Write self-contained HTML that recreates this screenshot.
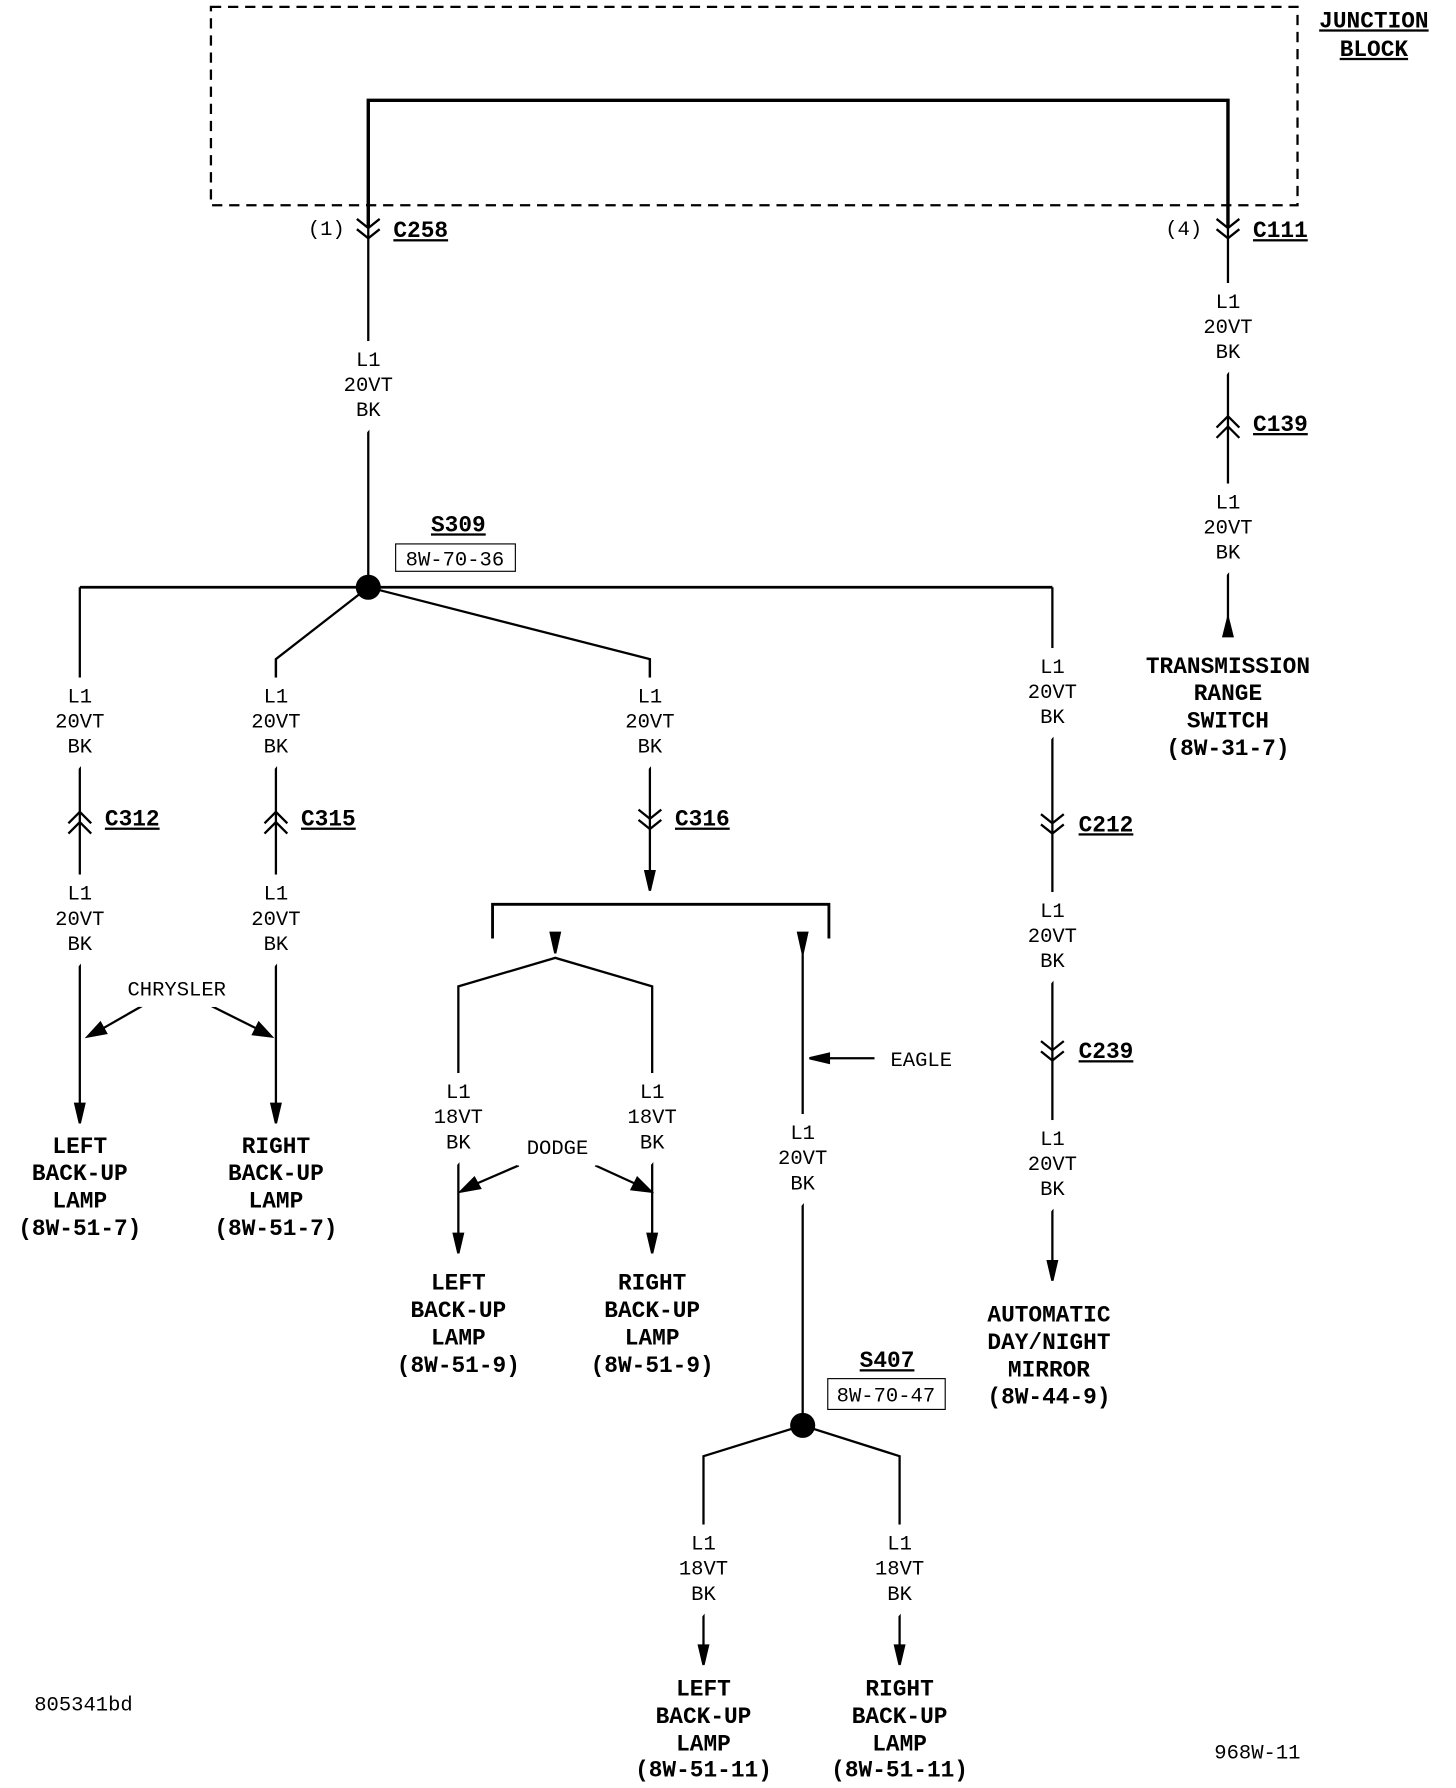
<!DOCTYPE html>
<html><head><meta charset="utf-8"><style>
html,body{margin:0;padding:0;background:#fff;}
svg{display:block;}
.w{font-family:"Liberation Mono",monospace;font-size:18px;fill:#000;text-anchor:middle;stroke:#fff;stroke-width:20px;paint-order:stroke;}
.b{font-family:"Liberation Mono",monospace;font-weight:bold;font-size:20px;fill:#000;text-anchor:middle;}
.c{font-family:"Liberation Mono",monospace;font-weight:bold;font-size:20px;fill:#000;text-decoration:underline;}
.n{font-family:"Liberation Mono",monospace;font-size:18px;fill:#000;}
</style></head><body>
<svg width="1456" height="1788" viewBox="0 0 1277 1568" preserveAspectRatio="none" xmlns="http://www.w3.org/2000/svg">
<g fill="none" stroke="#000" stroke-width="2">
<rect x="185" y="6" width="953" height="174" stroke-dasharray="9,6" stroke-width="2"/>
<polyline points="323,200 323,88 1077,88 1077,200" stroke-width="3"/>
<line x1="323" y1="200" x2="323" y2="515"/>
<polyline points="313,192 323,200 333,192"/><polyline points="313,201 323,209 333,201"/>
<line x1="1077" y1="200" x2="1077" y2="545"/>
<polyline points="1067,192 1077,200 1087,192"/><polyline points="1067,201 1077,209 1087,201"/>
<polyline points="1067,375 1077,365 1087,375"/><polyline points="1067,384 1077,374 1087,384"/>
<path d="M1073,558 L1081,558 L1077,542 Z" fill="#000"/>
<line x1="70" y1="515" x2="923" y2="515" stroke-width="2.5"/>
<polyline points="323,515 242,578 242,600"/>
<polyline points="323,515 570,578 570,600"/>
<line x1="70" y1="515" x2="70" y2="970"/>
<line x1="242" y1="578" x2="242" y2="970"/>
<polyline points="60,722 70,712 80,722"/><polyline points="60,731 70,721 80,731"/>
<polyline points="232,722 242,712 252,722"/><polyline points="232,731 242,721 252,731"/>
<path d="M66,968 L74,968 L70,985 Z" fill="#000"/>
<path d="M238,968 L246,968 L242,985 Z" fill="#000"/>
<line x1="570" y1="578" x2="570" y2="768"/>
<polyline points="560,710 570,718 580,710"/><polyline points="560,719 570,727 580,719"/>
<path d="M566,764 L574,764 L570,781 Z" fill="#000"/>
<polyline points="432,823 432,793 727,793 727,823" stroke-width="2.5"/>
<path d="M483,818 L491,818 L487,836 Z" fill="#000"/>
<polyline points="402,1085 402,865 487,840 572,865 572,1085"/>
<path d="M398,1082 L406,1082 L402,1099 Z" fill="#000"/>
<path d="M568,1082 L576,1082 L572,1099 Z" fill="#000"/>
<line x1="704" y1="830" x2="704" y2="1250"/>
<path d="M700,818 L708,818 L704,836 Z" fill="#000"/>
<line x1="725" y1="928" x2="767" y2="928"/>
<path d="M710,928 L727,924 L727,932 Z" fill="#000"/>
<polyline points="617,1445 617,1277 704,1250 789,1277 789,1445"/>
<path d="M613,1443 L621,1443 L617,1460 Z" fill="#000"/>
<path d="M785,1443 L793,1443 L789,1460 Z" fill="#000"/>
<line x1="923" y1="515" x2="923" y2="1110"/>
<polyline points="913,714 923,722 933,714"/><polyline points="913,723 923,731 933,723"/>
<polyline points="913,913 923,921 933,913"/><polyline points="913,922 923,930 933,922"/>
<path d="M919,1106 L927,1106 L923,1123 Z" fill="#000"/>
<line x1="125" y1="882" x2="90" y2="902"/><path d="M77,909 L88,897 L93,906 Z" fill="#000"/>
<line x1="185" y1="882" x2="225" y2="902"/><path d="M238,909 L222,907 L227,897 Z" fill="#000"/>
<line x1="455" y1="1022" x2="418" y2="1038"/><path d="M404,1045 L416,1033 L421,1042 Z" fill="#000"/>
<line x1="522" y1="1022" x2="557" y2="1038"/><path d="M571,1045 L554,1043 L559,1033 Z" fill="#000"/>
<rect x="347" y="477" width="105" height="24" stroke-width="1"/>
<rect x="726" y="1209" width="103" height="27" stroke-width="1"/>
</g>
<circle cx="323" cy="515" r="11" fill="#000"/>
<circle cx="704" cy="1250" r="11" fill="#000"/>

<text class="c" x="1205" y="24" text-anchor="middle">JUNCTION</text>
<text class="c" x="1205" y="49" text-anchor="middle">BLOCK</text>
<text class="n" x="270" y="206">(1)</text><text class="c" x="345" y="208">C258</text>
<text class="n" x="1022" y="206">(4)</text><text class="c" x="1099" y="208">C111</text>
<text class="c" x="1099" y="378">C139</text>
<text class="c" x="92" y="724">C312</text>
<text class="c" x="264" y="724">C315</text>
<text class="c" x="592" y="724">C316</text>
<text class="c" x="946" y="729">C212</text>
<text class="c" x="946" y="928">C239</text>
<text class="c" x="402" y="466" text-anchor="middle">S309</text>
<text class="n" x="399" y="496" text-anchor="middle">8W-70-36</text>
<text class="c" x="778" y="1199" text-anchor="middle">S407</text>
<text class="n" x="777" y="1229" text-anchor="middle">8W-70-47</text>

<g class="w">
<text x="323" y="321">L1</text><text x="323" y="343">20VT</text><text x="323" y="365">BK</text>
<text x="1077" y="270">L1</text><text x="1077" y="292">20VT</text><text x="1077" y="314">BK</text>
<text x="1077" y="446">L1</text><text x="1077" y="468">20VT</text><text x="1077" y="490">BK</text>
<text x="70" y="616">L1</text><text x="70" y="638">20VT</text><text x="70" y="660">BK</text>
<text x="242" y="616">L1</text><text x="242" y="638">20VT</text><text x="242" y="660">BK</text>
<text x="570" y="616">L1</text><text x="570" y="638">20VT</text><text x="570" y="660">BK</text>
<text x="70" y="789">L1</text><text x="70" y="811">20VT</text><text x="70" y="833">BK</text>
<text x="242" y="789">L1</text><text x="242" y="811">20VT</text><text x="242" y="833">BK</text>
<text x="923" y="590">L1</text><text x="923" y="612">20VT</text><text x="923" y="634">BK</text>
<text x="923" y="804">L1</text><text x="923" y="826">20VT</text><text x="923" y="848">BK</text>
<text x="923" y="1004">L1</text><text x="923" y="1026">20VT</text><text x="923" y="1048">BK</text>
<text x="402" y="963">L1</text><text x="402" y="985">18VT</text><text x="402" y="1007">BK</text>
<text x="572" y="963">L1</text><text x="572" y="985">18VT</text><text x="572" y="1007">BK</text>
<text x="704" y="999">L1</text><text x="704" y="1021">20VT</text><text x="704" y="1043">BK</text>
<text x="617" y="1359">L1</text><text x="617" y="1381">18VT</text><text x="617" y="1403">BK</text>
<text x="789" y="1359">L1</text><text x="789" y="1381">18VT</text><text x="789" y="1403">BK</text>
<text x="155" y="873">CHRYSLER</text>
<text x="489" y="1012">DODGE</text>
<text x="808" y="935">EAGLE</text>
</g>

<g class="b">
<text x="1077" y="590">TRANSMISSION</text><text x="1077" y="614">RANGE</text><text x="1077" y="638">SWITCH</text><text x="1077" y="662">(8W-31-7)</text>
<text x="70" y="1011">LEFT</text><text x="70" y="1035">BACK-UP</text><text x="70" y="1059">LAMP</text><text x="70" y="1083">(8W-51-7)</text>
<text x="242" y="1011">RIGHT</text><text x="242" y="1035">BACK-UP</text><text x="242" y="1059">LAMP</text><text x="242" y="1083">(8W-51-7)</text>
<text x="402" y="1131">LEFT</text><text x="402" y="1155">BACK-UP</text><text x="402" y="1179">LAMP</text><text x="402" y="1203">(8W-51-9)</text>
<text x="572" y="1131">RIGHT</text><text x="572" y="1155">BACK-UP</text><text x="572" y="1179">LAMP</text><text x="572" y="1203">(8W-51-9)</text>
<text x="920" y="1159">AUTOMATIC</text><text x="920" y="1183">DAY/NIGHT</text><text x="920" y="1207">MIRROR</text><text x="920" y="1231">(8W-44-9)</text>
<text x="617" y="1487">LEFT</text><text x="617" y="1511">BACK-UP</text><text x="617" y="1535">LAMP</text><text x="617" y="1558">(8W-51-11)</text>
<text x="789" y="1487">RIGHT</text><text x="789" y="1511">BACK-UP</text><text x="789" y="1535">LAMP</text><text x="789" y="1558">(8W-51-11)</text>
</g>
<text class="n" x="30" y="1500">805341bd</text>
<text class="n" x="1065" y="1542">968W-11</text>
</svg>
</body></html>
